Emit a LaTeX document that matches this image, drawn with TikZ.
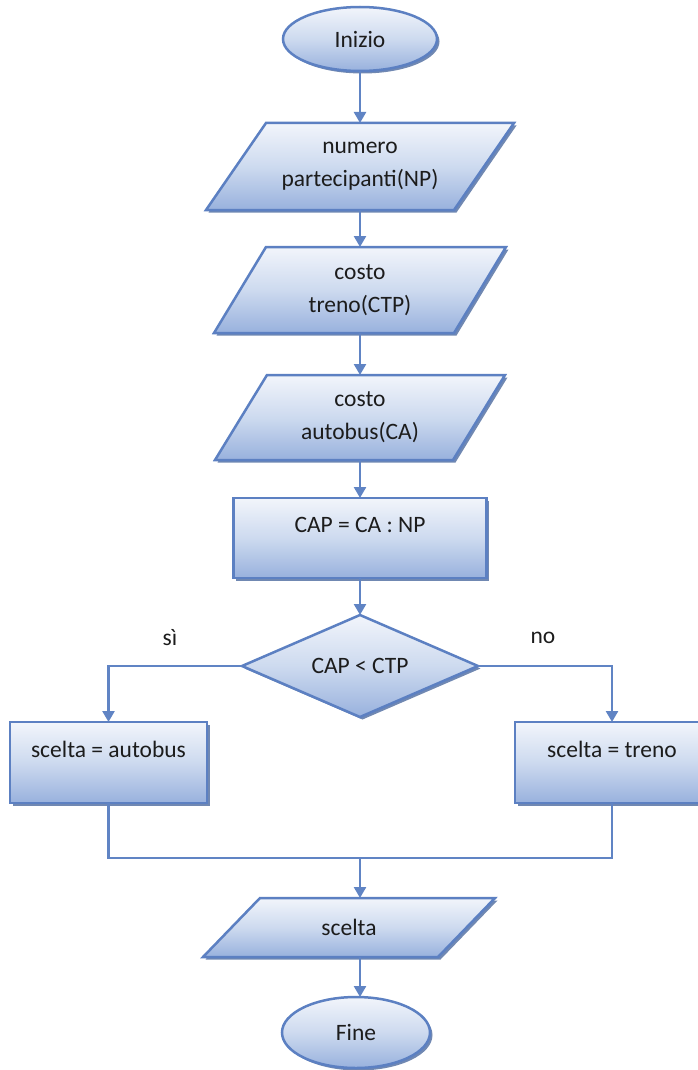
\documentclass[tikz,border=0pt]{standalone}
\usepackage{fontspec}
\setmainfont{Carlito}
\usetikzlibrary{shapes.geometric,arrows.meta,shadows,calc}
\pgfdeclarelayer{background}
\pgfsetlayers{background,main}
\definecolor{edgeblue}{RGB}{92,128,194}
\definecolor{lineblue}{RGB}{96,132,196}
\definecolor{shadowblue}{RGB}{112,136,178}
\definecolor{gtop}{RGB}{242,245,251}
\definecolor{gmid}{RGB}{205,218,239}
\definecolor{gbot}{RGB}{152,177,221}
\definecolor{txt}{RGB}{28,28,28}
\tikzset{
 base/.style={font=\fontsize{23.5}{33}\selectfont, text=txt, align=center, inner sep=0pt, outer sep=0pt},
 shapefill/.style={top color=gtop, bottom color=gbot, middle color=gmid, draw=edgeblue, line width=2.5pt},
 sh/.style={drop shadow={shadow xshift=2.5pt, shadow yshift=-2.5pt, fill=shadowblue, opacity=1}},
 terminal/.style={base, ellipse, shapefill, sh},
 procbox/.style={base, rectangle, shapefill, sh, text height=17pt, text depth=28pt},
 decision/.style={base, diamond, aspect=2.3, shapefill, sh},
 iobox/.style={base, rectangle},
 conn/.style={draw=lineblue, line width=2.5pt},
 arr/.style={conn, -{Triangle[width=12pt,length=11pt]}},
 lbl/.style={font=\fontsize{23.5}{28}\selectfont, text=txt}
}
\newcommand\drawio[2]{%
 \begin{pgfonlayer}{background}
 \fill[shadowblue] ($(#1.north west)+(#2+2.5,2.5)$) -- ($(#1.north east)+(2.5,2.5)$) -- ($(#1.south east)+(-#2+2.5,2.5)$) -- ($(#1.south west)+(2.5,2.5)$) -- cycle;
 \path[shapefill] ($(#1.north west)+(#2,0)$) -- (#1.north east) -- ($(#1.south east)+(-#2,0)$) -- (#1.south west) -- cycle;
 \end{pgfonlayer}}
\begin{document}
\begin{tikzpicture}[x=1pt,y=-1pt]
\useasboundingbox (0,0) rectangle (698,1070);
\node[terminal, minimum width=154pt, minimum height=64pt] (start) at (360,39) {Inizio};
\node[iobox, minimum width=308pt, minimum height=87pt] (p1) at (360,166.5) {numero\\partecipanti(NP)};
\drawio{p1}{60}
\node[iobox, minimum width=292pt, minimum height=86pt] (p2) at (360,290) {costo\\treno(CTP)};
\drawio{p2}{52}
\node[iobox, minimum width=290pt, minimum height=85pt] (p3) at (360,417.5) {costo\\autobus(CA)};
\drawio{p3}{52}
\node[procbox, minimum width=253pt, minimum height=80pt] (calc) at (360,538) {CAP = CA : NP};
\node[decision, minimum width=236pt, minimum height=102pt] (cmp) at (360,666) {CAP < CTP};
\node[procbox, minimum width=197pt, minimum height=81pt] (bus) at (108.5,762.5) {scelta = autobus};
\node[procbox, minimum width=194pt, minimum height=81pt] (train) at (612,762.5) {scelta = treno};
\coordinate (j) at (360,858);
\node[iobox, minimum width=292pt, minimum height=59pt] (out) at (349,927.5) {scelta};
\drawio{out}{57}
\node[terminal, minimum width=148pt, minimum height=71pt] (fin) at (356,1032.5) {Fine};
\node[lbl] (si) at (170,638) {sì};
\node[lbl] (no) at (543,638) {no};
\draw[arr] (start) -- (p1);
\draw[arr] (p1) -- (p2);
\draw[arr] (p2) -- (p3);
\draw[arr] (p3) -- (calc);
\draw[arr] (calc) -- (cmp);
\draw[arr] (cmp.west) -| (bus.north);
\draw[arr] (cmp.east) -| (train.north);
\draw[conn] (bus.south) |- (j) -| (train.south);
\draw[arr] (j) -- (j |- out.north);
\draw[arr] (j |- out.south) -- (j |- fin.north);
\end{tikzpicture}
\end{document}
